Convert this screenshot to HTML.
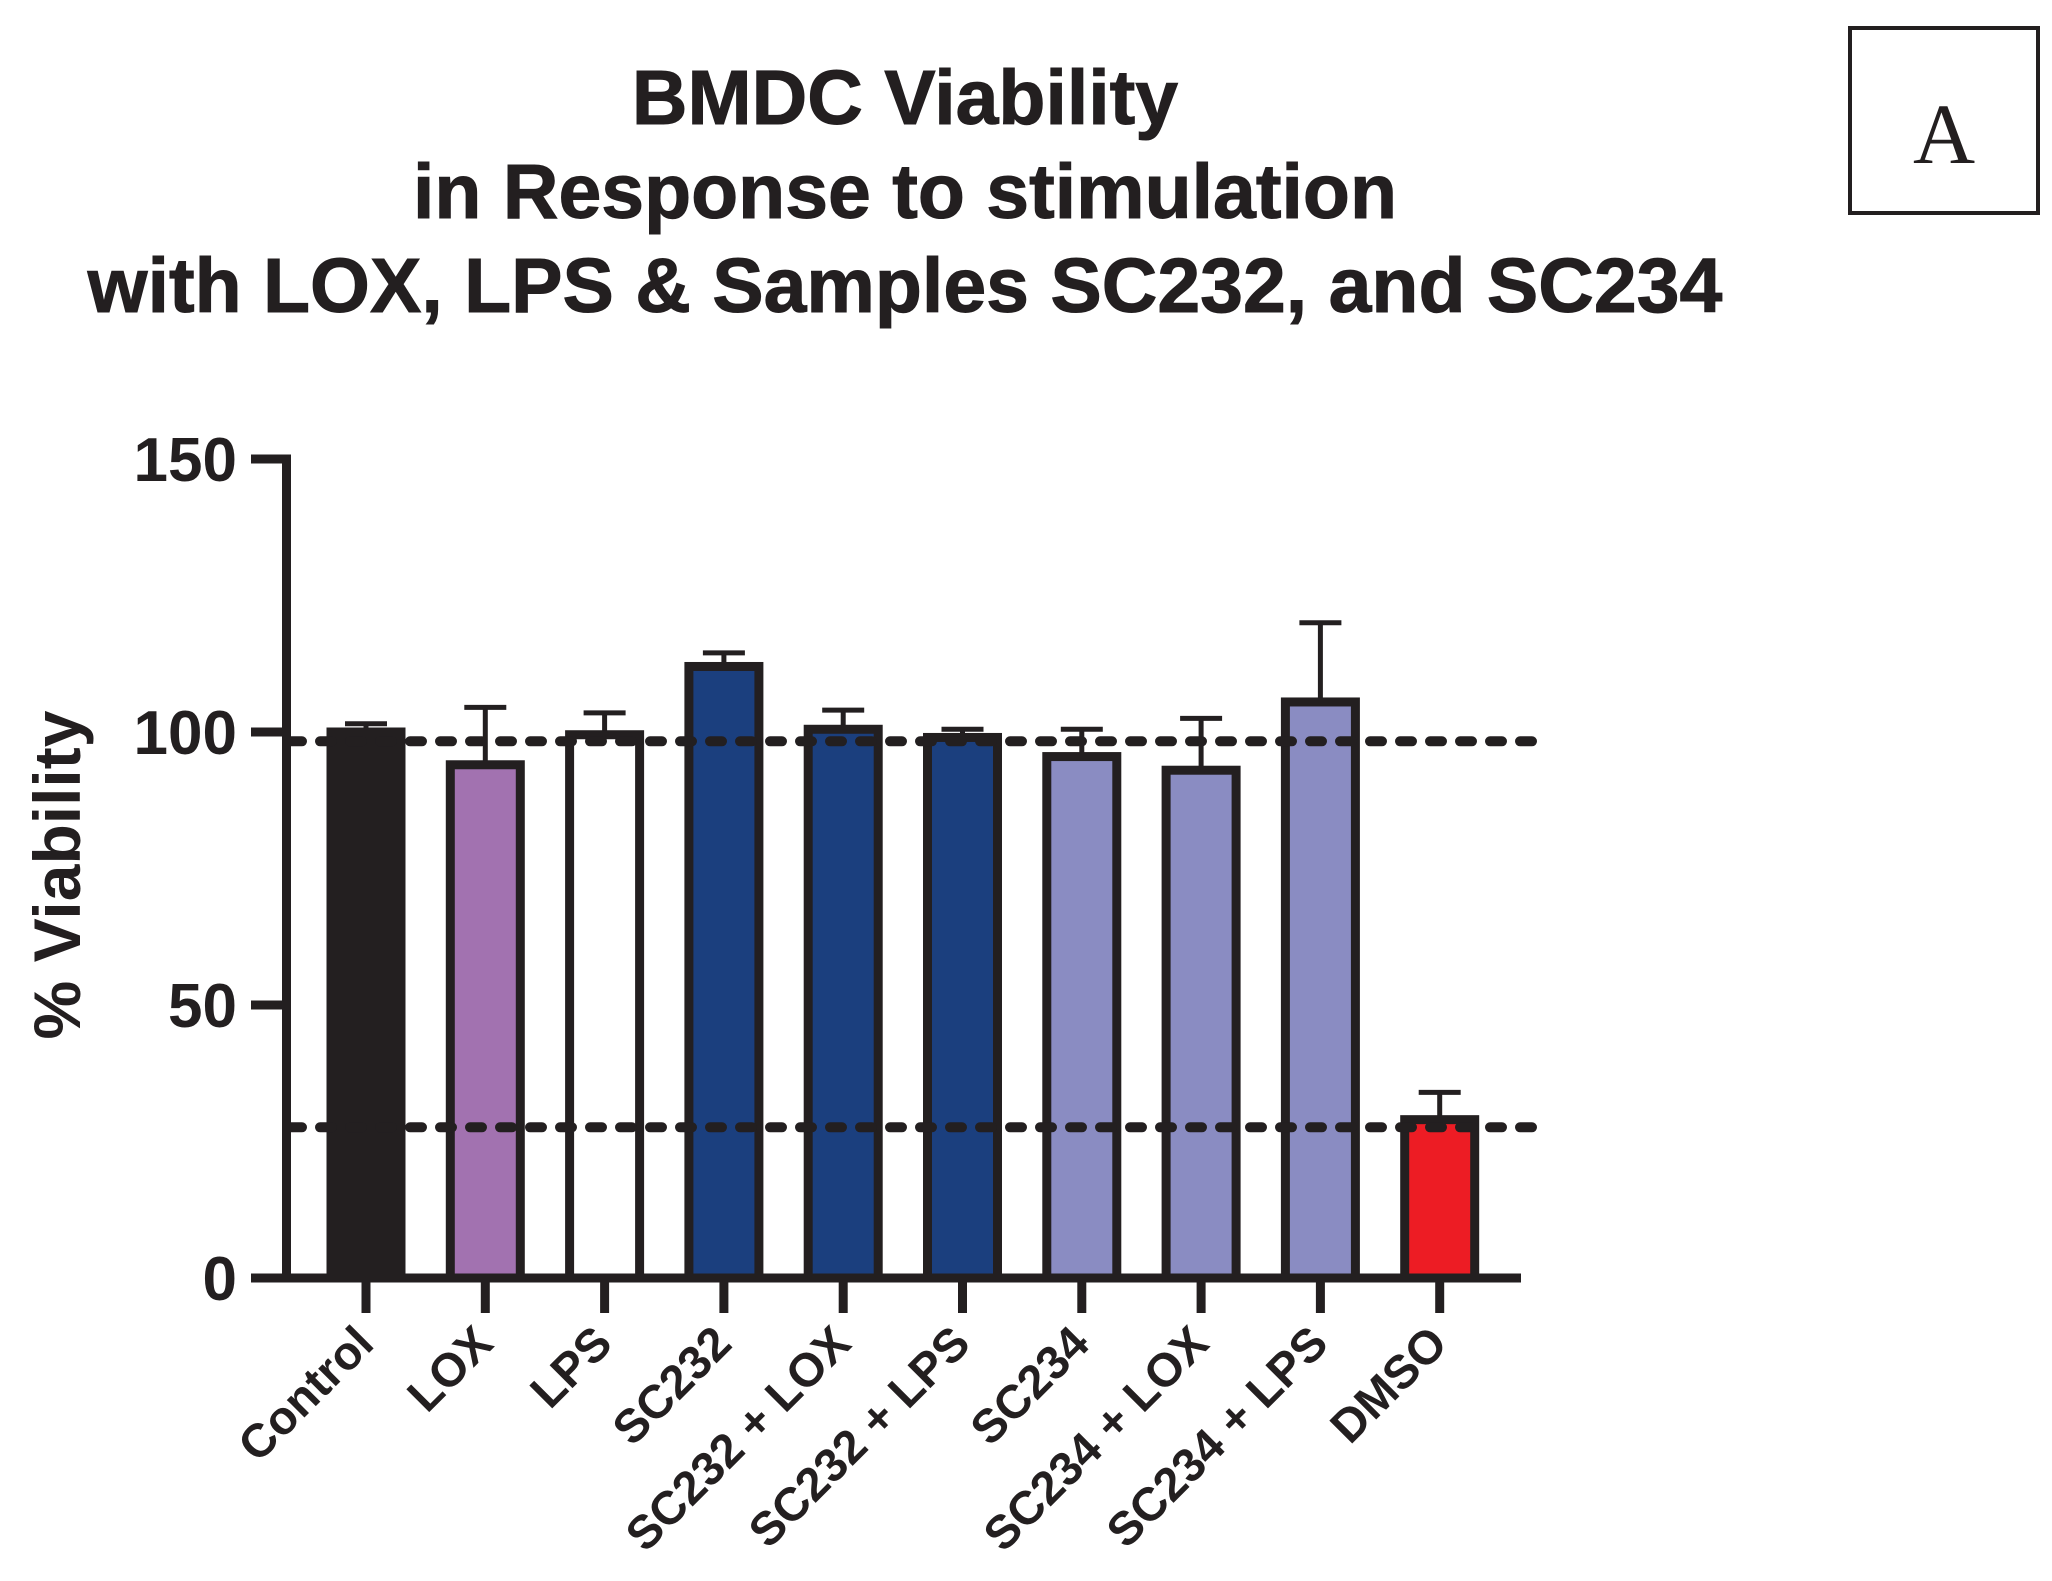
<!DOCTYPE html>
<html><head><meta charset="utf-8"><style>
html,body{margin:0;padding:0;background:#fff;}
svg{display:block;font-family:"Liberation Sans",Arial,sans-serif;}
</style></head><body>
<svg id="chart" width="2052" height="1581" viewBox="0 0 2052 1581">
<g font-weight="bold" font-size="77" fill="#231f20" text-anchor="middle" stroke="#231f20" stroke-width="1">
<text x="905" y="124">BMDC Viability</text>
<text x="905" y="218">in Response to stimulation</text>
<text x="905" y="312">with LOX, LPS &amp; Samples SC232, and SC234</text>
</g>
<g>
<rect x="1850" y="28" width="188" height="185" fill="none" stroke="#231f20" stroke-width="4"/>
<text x="1944" y="163" font-family="Liberation Serif,serif" font-size="86" text-anchor="middle" fill="#231f20">A</text>
</g>
<text transform="translate(80,875) rotate(-90)" text-anchor="middle" font-weight="bold" font-size="66" fill="#231f20">% Viability</text>
<g id="plot"></g>
</svg>
<script>
const categories=["Control","LOX","LPS","SC232","SC232 + LOX","SC232 + LPS","SC234","SC234 + LOX","SC234 + LPS","DMSO"];
const values=[100,94,99.5,112,100.5,99,95.5,93,105.5,29];
const errors=[1.5,10.5,4,2.5,3.5,1.5,5,9.5,14.5,5];
const colors=["#231f20","#a272b0","#ffffff","#1b3f7e","#1b3f7e","#1b3f7e","#8a8cc2","#8a8cc2","#8a8cc2","#ed1c24"];
const yTicks=[0,50,100,150];
const refLines=[98.3,27.6];

const NS="http://www.w3.org/2000/svg";
const g=document.getElementById('plot');
const y=v=>1278-v*(1278-459)/150;
const x=i=>366+i*119.3;
function mk(t,a,p){const e=document.createElementNS(NS,t);for(const k in a)e.setAttribute(k,a[k]);(p||g).appendChild(e);return e;}
const ink="#231f20";
categories.forEach((c,i)=>{
  const cx=x(i),w=70,top=y(values[i]);
  const er=mk('line',{x1:cx,x2:cx,y1:top,y2:y(values[i]+errors[i]),stroke:ink,'stroke-width':5});
  
  
  const cap=mk('line',{x1:cx-21,x2:cx+21,y1:y(values[i]+errors[i]),y2:y(values[i]+errors[i]),stroke:ink,'stroke-width':5});
  
  
  const r=mk('rect',{x:cx-w/2,y:top,width:w,height:y(0)-top,fill:colors[i],stroke:ink,'stroke-width':9});
  
  
  const t=mk('line',{x1:cx,x2:cx,y1:y(0),y2:1313,stroke:ink,'stroke-width':9});
  
  
  const lb=mk('text',{transform:`translate(${cx+10},${1346}) rotate(-45)`,'text-anchor':'end','font-weight':'bold','font-size':47,fill:ink});
  lb.textContent=c;
  
  
});
refLines.forEach((v,k)=>{
  const l=mk('line',{x1:290,x2:1548,y1:y(v),y2:y(v),stroke:ink,'stroke-width':10,'stroke-linecap':'round','stroke-dasharray':'12 18'});
  
  
});
const ya=mk('line',{x1:286.5,x2:286.5,y1:455,y2:1282,stroke:ink,'stroke-width':9});


const xa=mk('line',{x1:251,x2:1521,y1:1278,y2:1278,stroke:ink,'stroke-width':9});


yTicks.forEach(v=>{
  const t=mk('line',{x1:251,x2:291,y1:y(v),y2:y(v),stroke:ink,'stroke-width':9});
  
  
  const l=mk('text',{x:237,y:y(v)+22,'text-anchor':'end','font-weight':'bold','font-size':62,fill:ink});
  l.textContent=v;
  
  
});
</script>
</body></html>
